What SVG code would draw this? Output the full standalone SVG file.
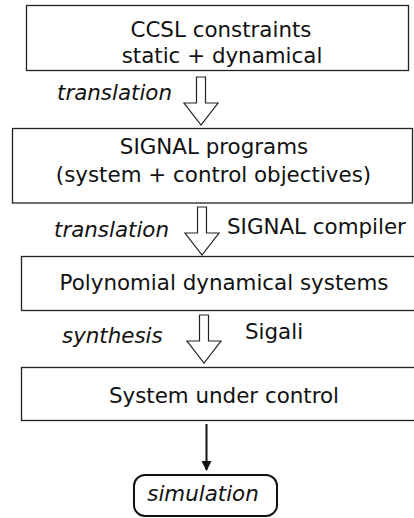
<svg xmlns="http://www.w3.org/2000/svg" width="414" height="518" viewBox="0 0 414 518">
<defs>
<style>
.box{fill:#fff;stroke:#222;stroke-width:1.3}
.t{font-family:"DejaVu Sans",sans-serif;font-size:21.4px;fill:#111;text-anchor:middle}
.i{font-family:"DejaVu Sans",sans-serif;font-size:21.4px;font-style:italic;fill:#111}
.l{font-family:"DejaVu Sans",sans-serif;font-size:21.4px;fill:#111}
.ha{fill:#fff;stroke:#222;stroke-width:1.2;stroke-linejoin:miter}
</style>
<marker id="ah" viewBox="0 0 10 10" refX="9" refY="5" markerWidth="5" markerHeight="5" orient="auto" markerUnits="strokeWidth">
<path d="M0,0 L10,5 L0,10 z" fill="#111"/>
</marker>
</defs>
<rect width="414" height="518" fill="#fff"/>
<g id="n1"><rect class="box" x="26.5" y="5.5" width="382" height="65"/>
<text class="t" x="221" y="37">CCSL constraints</text>
<text class="t" x="222" y="63">static + dynamical</text></g>
<g id="n2"><rect class="box" x="12.5" y="128.5" width="400" height="74.5"/>
<text class="t" x="214" y="154">SIGNAL programs</text>
<text class="t" x="213.5" y="182">(system + control objectives)</text></g>
<g id="n3"><rect class="box" x="21.5" y="256.5" width="400" height="54"/>
<text class="t" x="224" y="290">Polynomial dynamical systems</text></g>
<g id="n4"><rect class="box" x="21.5" y="367.5" width="400" height="53"/>
<text class="t" x="224" y="403">System under control</text></g>
<g id="n5"><rect x="134" y="475" width="143" height="41" rx="11" fill="#fff" stroke="#111" stroke-width="2"/>
<text class="i" x="203" y="501" text-anchor="middle">simulation</text></g>
<g id="connectors">
<path class="ha" d="M196.5,77 H205.5 V103 H218 L201,125 L184,103 H196.5 Z"/>
<path class="ha" d="M197.5,207 H206.5 V233 H219 L202,255 L185,233 H197.5 Z"/>
<path class="ha" d="M199.5,315 H208.5 V341 H221 L204,363 L187,341 H199.5 Z"/>
<line x1="206.5" y1="424" x2="206.5" y2="470" stroke="#111" stroke-width="2" marker-end="url(#ah)"/>
<text class="i" x="57" y="100">translation</text>
<text class="i" x="54" y="237">translation</text>
<text class="l" x="227" y="234">SIGNAL compiler</text>
<text class="i" x="62" y="343">synthesis</text>
<text class="l" x="245" y="339">Sigali</text>
</g>
</svg>
